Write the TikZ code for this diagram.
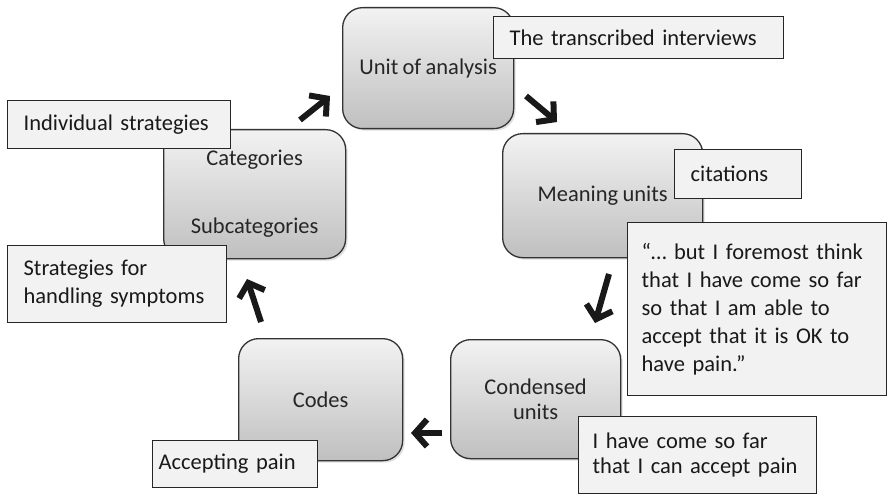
\documentclass[tikz,border=0pt]{standalone}
\usepackage{fontspec}
\setmainfont[WordSpace=0.85]{Carlito}
\usetikzlibrary{arrows.meta,shadows}
\begin{document}
\begin{tikzpicture}[x=1pt,y=-1pt,
  stage/.style={draw=black!80, line width=1.3pt, rounded corners=20pt,
    top color=gray!10, bottom color=gray!50,
    drop shadow={opacity=0.25, shadow xshift=2pt, shadow yshift=-2pt},
    align=center, inner sep=0pt, anchor=north west,
    font=\fontsize{22.5}{25}\selectfont, text=black!85},
  note/.style={draw=black!85, line width=1.3pt, fill=gray!10,
    align=left, inner ysep=0pt, inner xsep=16pt, anchor=north west,
    font=\fontsize{22.5}{28}\selectfont, text=black!90},
  flow/.style={line width=6pt, black!90, -{Straight Barb[length=12pt,width=27pt]}}
]
\useasboundingbox (0,0) rectangle (888,494);

% stages
\node[stage, minimum width=171pt, minimum height=121pt] (unit) at (342,7) {Unit of analysis};
\node[stage, minimum width=200pt, minimum height=124pt] (mean) at (502,133) {Meaning units};
\node[stage, minimum width=170pt, minimum height=119pt] (cond) at (450,339) {Condensed\\units};
\node[stage, minimum width=164pt, minimum height=122pt] (codes) at (238,338) {Codes};
\node[stage, minimum width=182pt, minimum height=129pt] (cat) at (163,129) {Categories\\[43pt]Subcategories};

% notes
\node[note, text width=258pt, minimum height=42pt] (interv) at (493,16) {The transcribed interviews};
\node[note, text width=95pt, minimum height=49pt] (cit) at (674,149) {citations};
\node[note, inner xsep=14pt, text width=231pt, minimum height=173pt] (quote) at (627,222)
  {“\ldots\ but I foremost think\\that I have come so far\\so that I am able to\\accept that it is OK to\\have pain.”\\[-12pt]};
\node[note, inner xsep=14pt, text width=210pt, minimum height=77pt, font=\fontsize{22.5}{25}\selectfont] (come) at (578,416)
  {I have come so far\\that I can accept pain};
\node[note, inner xsep=6pt, text width=153pt, minimum height=47pt] (acc) at (152,440) {Accepting pain};
\node[note, text width=191pt, minimum height=48pt] (indiv) at (7,100) {Individual strategies};
\node[note, text width=187pt, minimum height=77pt] (sympt) at (7,245) {Strategies for\\handling symptoms};

% arrows
\coordinate (a1s) at (300,120); \coordinate (a1e) at (330,96);
\coordinate (a2s) at (526,96);  \coordinate (a2e) at (557,122);
\coordinate (a3s) at (609,274); \coordinate (a3e) at (595,323);
\coordinate (a4s) at (442,433); \coordinate (a4e) at (411,433);
\coordinate (a5s) at (261,322); \coordinate (a5e) at (247,279);
\draw[flow] (a1s) -- (a1e);
\draw[flow] (a2s) -- (a2e);
\draw[flow] (a3s) -- (a3e);
\draw[flow] (a4s) -- (a4e);
\draw[flow] (a5s) -- (a5e);
\end{tikzpicture}
\end{document}
